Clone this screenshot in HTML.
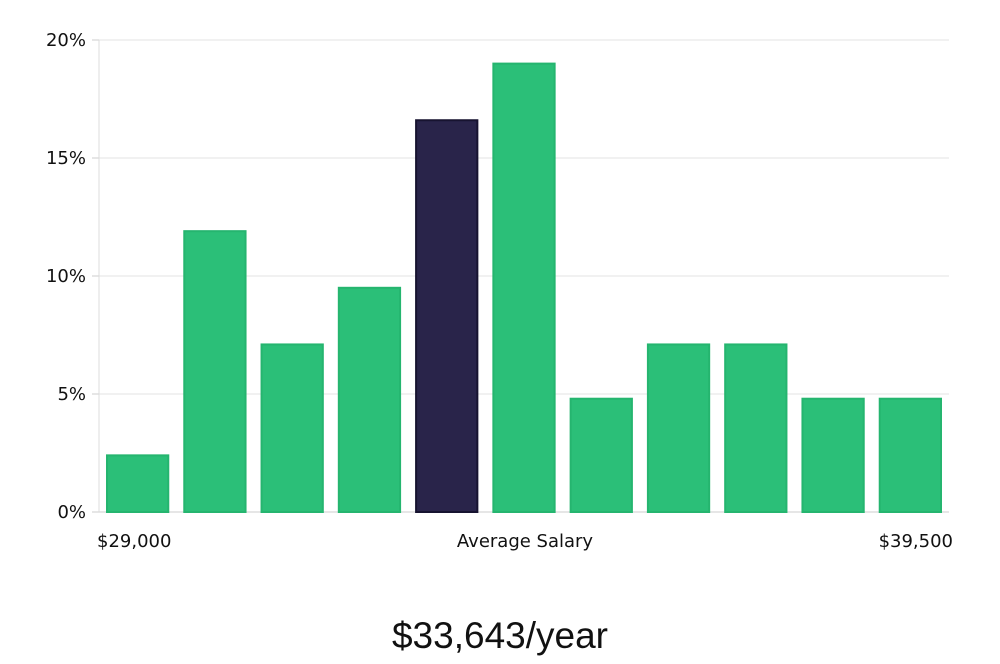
<!DOCTYPE html>
<html><head><meta charset="utf-8"><style>
body{margin:0;background:#fff;width:1000px;height:660px;overflow:hidden;font-family:"DejaVu Sans","Liberation Sans",sans-serif}
</style></head><body>
<svg id="chart" width="1000" height="660" xmlns="http://www.w3.org/2000/svg">
<g id="grid"></g>
<g id="yaxis"></g>
<g id="bars"></g>
<text x="97" y="547" font-size="18" fill="#111">$29,000</text>
<text x="525" y="547" font-size="18" fill="#111" text-anchor="middle">Average Salary</text>
<text x="953" y="547" font-size="18" fill="#111" text-anchor="end">$39,500</text>
<text x="500" y="648" font-size="37" fill="#111" text-anchor="middle" font-family="'Liberation Sans',sans-serif">$33,643/year</text>
</svg>
<script>
const values=[2.4,11.9,7.1,9.5,16.6,19.0,4.8,7.1,7.1,4.8,4.8];
const highlight=[false,false,false,false,true,false,false,false,false,false,false];
const yTicks=[0,5,10,15,20];
const yTickLabels=["0%","5%","10%","15%","20%"];
const ns="http://www.w3.org/2000/svg";
const x0=99,x1=949,y0=512,y1=40,yMax=20;
const y=v=>y0-(v/yMax)*(y0-y1);
const band=(x1-x0)/values.length;
const g=document.getElementById('grid'),ya=document.getElementById('yaxis'),b=document.getElementById('bars');
function el(t,a,p){const e=document.createElementNS(ns,t);for(const k in a)e.setAttribute(k,a[k]);p.appendChild(e);return e;}
yTicks.forEach((t,i)=>{
 const l=el('line',{x1:x0,x2:x1,y1:y(t),y2:y(t),stroke:t===0?'#ccc':'#e3e3e3','stroke-width':1},g);
 
 
 const tk=el('line',{x1:x0-7,x2:x0,y1:y(t),y2:y(t),stroke:'#ccc'},ya);
 
 
 const tx=el('text',{x:x0-13,y:y(t)+6,'font-size':18,fill:'#111','text-anchor':'end'},ya);
 tx.textContent=yTickLabels[i];
 
 
});
const ax=el('line',{x1:x0,x2:x0,y1:y1,y2:y0,stroke:'#ddd'},ya);


values.forEach((v,i)=>{
 const pad=7.5;
 const r=el('rect',{x:x0+i*band+pad+0.5,y:y(v),width:band-2*pad-1,height:y0-y(v),
  fill:highlight[i]?'#29244a':'#2bbf78',stroke:highlight[i]?'#171330':'#25b56f','stroke-width':2},b);
 
 
});
</script>
</body></html>
